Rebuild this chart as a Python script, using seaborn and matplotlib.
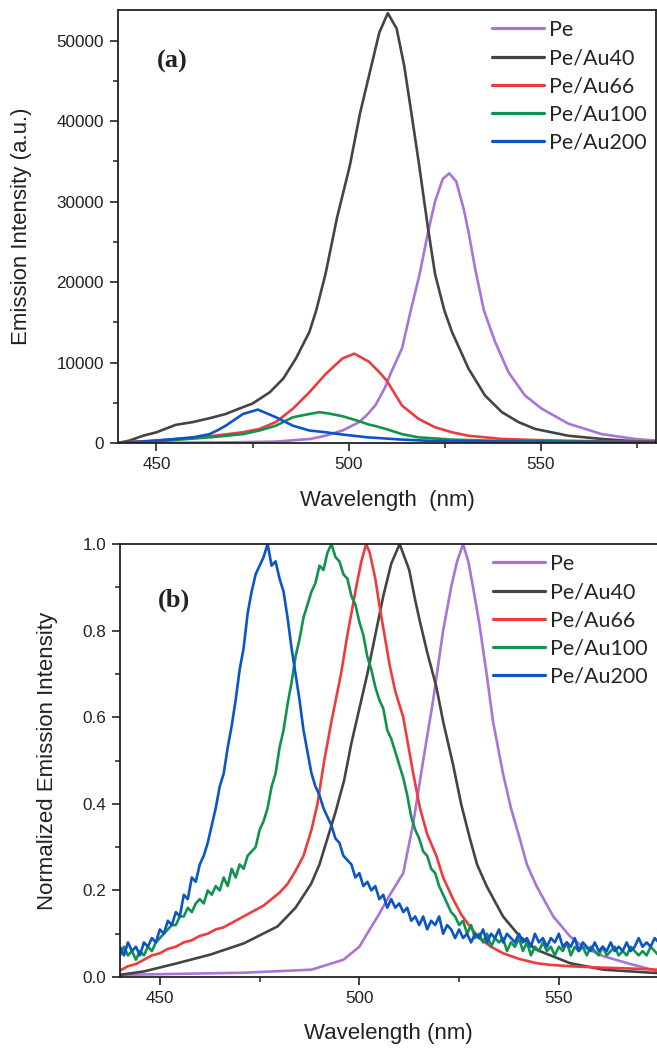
import pandas as pd
import matplotlib
matplotlib.use("Agg")
import matplotlib.pyplot as plt
from matplotlib.ticker import MultipleLocator, FormatStrFormatter
import seaborn as sns

series_names = ["Pe", "Pe/Au40", "Pe/Au66", "Pe/Au100", "Pe/Au200"]
series_colors = ["#A874D8", "#444444", "#EE3B3B", "#12924F", "#0A55C8"]

# (a) emission intensity
pe_wl = [440, 460, 470, 481, 490, 494, 498.4, 502.8, 505, 507, 509.5, 511, 513.9, 516.2, 518.5,
         520.6, 522.5, 524.5, 526.2, 528, 530, 531.3, 533, 535.2, 538.1, 541.6, 545.9, 550.3,
         557.2, 565.9, 574.5, 580]
pe_int = [0, 50, 80, 170, 500, 900, 1550, 2600, 3600, 4700, 6900, 8700, 11750, 16500, 21000,
          26000, 30000, 32800, 33500, 32500, 29000, 26000, 21500, 16500, 12600, 8800, 5900, 4250,
          2400, 1100, 500, 300]

au40_wl = [440, 443, 446.5, 450, 455, 459.5, 464, 468, 472.5, 475, 479.5, 483, 486.3, 489.8,
           491.6, 494, 497, 500.3, 503, 505.9, 508, 510.2, 512.5, 514.5, 516.5, 518.4, 520.6,
           522.5, 524.9, 526.9, 531.2, 535.5, 539.9, 544.2, 548.5, 557.2, 565.9, 575, 580]
au40_int = [0, 300, 900, 1330, 2250, 2600, 3100, 3600, 4450, 4900, 6300, 8000, 10500, 13800,
            16500, 21000, 28000, 34400, 41000, 46800, 51000, 53400, 51500, 46800, 40500, 34400,
            26900, 21000, 16500, 13800, 9250, 5900, 3830, 2600, 1750, 900, 500, 200, 150]

au66_wl = [440, 450, 463.8, 472.5, 476.8, 481.1, 485.5, 489.8, 494.1, 498.4, 501.5, 505.3, 508,
           510, 513.9, 518.2, 522.5, 526.9, 531.2, 540, 548.5, 560, 580]
au66_int = [50, 300, 830, 1330, 1750, 2600, 4250, 6300, 8600, 10500, 11100, 10100, 8800,
            7700, 4650, 3000, 1950, 1330, 900, 500, 370, 250, 150]

au100_wl = [440, 450, 463.8, 472.5, 476.8, 481.1, 485.5, 489.8, 492.4, 495, 498.4, 502.8,
            505.2, 507, 510, 513.9, 518.2, 526.9, 540, 580]
au100_int = [30, 200, 700, 1100, 1550, 2150, 3200, 3600, 3830, 3650, 3330, 2700, 2300, 2100,
             1700, 1100, 700, 420, 250, 100]

au200_wl = [440, 446.5, 455, 459.5, 463.8, 466, 468.2, 472.5, 476.4, 481.1, 485.5, 489.8, 494.1,
            498.4, 505, 514, 522, 540, 580]
au200_int = [30, 170, 500, 700, 1100, 1600, 2200, 3600, 4150, 3200, 2150, 1550, 1330, 1050, 700,
             420, 250, 170, 100]

# (b) normalized emission intensity
pe_n_wl = [440, 471, 488, 496, 500, 502.6, 504.6, 508, 511, 513.5, 516, 518.5, 521, 523, 524.5,
           526, 527.3, 528.5, 530, 531.9, 533.5, 536, 538, 540.2, 542, 544.4, 548.6, 552.8, 556,
           561.2, 568, 575]
pe_n = [0.005, 0.01, 0.017, 0.04, 0.07, 0.11, 0.14, 0.195, 0.24, 0.355, 0.5, 0.64, 0.8, 0.9,
        0.96, 1.0, 0.96, 0.9, 0.82, 0.70, 0.59, 0.47, 0.39, 0.32, 0.26, 0.21, 0.14, 0.094, 0.07,
        0.048, 0.03, 0.013]

au40_n_wl = [440, 446, 454.4, 462.7, 471.1, 479.5, 484, 487.9, 490, 492, 494, 496.2, 498, 500,
             502, 504, 506, 508, 510.1, 512.5, 514, 515.2, 517, 519.3, 521, 523.5, 525.5, 527.7,
             529.5, 531.9, 536, 540.2, 544.4, 552.8, 561.2, 575]
au40_n = [0.005, 0.013, 0.032, 0.052, 0.078, 0.117, 0.16, 0.215, 0.26, 0.32, 0.38, 0.455, 0.54,
          0.62, 0.70, 0.79, 0.88, 0.955, 1.0, 0.94, 0.87, 0.82, 0.75, 0.67, 0.59, 0.49, 0.40,
          0.32, 0.26, 0.21, 0.14, 0.094, 0.063, 0.032, 0.017, 0.009]

au66_n_wl = [440, 442, 444, 446, 448, 450, 452, 454, 456, 458, 460, 462, 464, 466, 468, 470, 472,
             474, 476, 478, 480, 482, 484, 486, 488, 489.5, 491.2, 493, 495.4, 497, 499.2, 500.5,
             501.7, 502.6, 504, 505, 507.6, 509, 511, 513.5, 515.2, 517, 519.3, 521, 523.5,
             525.5, 527.7, 530, 533, 536, 540, 544.4, 548, 552.8, 560, 567, 575]
au66_n = [0.015, 0.025, 0.03, 0.04, 0.05, 0.055, 0.065, 0.07, 0.08, 0.085, 0.095, 0.10, 0.11,
          0.115, 0.125, 0.135, 0.145, 0.155, 0.165, 0.18, 0.195, 0.215, 0.245, 0.28, 0.34, 0.4,
          0.5, 0.59, 0.7, 0.79, 0.9, 0.96, 1.0, 0.98, 0.92, 0.86, 0.72, 0.66, 0.6, 0.47, 0.39,
          0.33, 0.28, 0.23, 0.18, 0.145, 0.117, 0.09, 0.07, 0.055, 0.042, 0.032, 0.028, 0.025,
          0.022, 0.02, 0.017]

# the two noisiest spectra were read at every nanometre
grid_1nm = list(range(440, 576))
au100_n = [0.05, 0.07, 0.05, 0.06, 0.04, 0.06, 0.05, 0.07, 0.06, 0.08,
           0.09, 0.10, 0.11, 0.12, 0.12, 0.14, 0.14, 0.16, 0.15, 0.17,
           0.18, 0.17, 0.20, 0.19, 0.21, 0.20, 0.23, 0.21, 0.25, 0.23,
           0.26, 0.25, 0.28, 0.29, 0.30, 0.34, 0.36, 0.39, 0.44, 0.47,
           0.53, 0.57, 0.63, 0.68, 0.74, 0.78, 0.83, 0.86, 0.89, 0.91,
           0.95, 0.94, 0.98, 1.00, 0.97, 0.96, 0.93, 0.92, 0.88, 0.86,
           0.82, 0.79, 0.74, 0.71, 0.67, 0.64, 0.62, 0.57, 0.55, 0.52,
           0.49, 0.46, 0.42, 0.37, 0.34, 0.32, 0.29, 0.28, 0.25, 0.24,
           0.21, 0.19, 0.17, 0.15, 0.14, 0.12, 0.13, 0.10, 0.12, 0.09,
           0.10, 0.08, 0.10, 0.07, 0.09, 0.08, 0.09, 0.06, 0.08, 0.07,
           0.09, 0.06, 0.08, 0.05, 0.07, 0.06, 0.08, 0.06, 0.07, 0.05,
           0.07, 0.06, 0.08, 0.05, 0.07, 0.06, 0.07, 0.05, 0.07, 0.06,
           0.05, 0.07, 0.05, 0.06, 0.07, 0.05, 0.06, 0.05, 0.07, 0.06,
           0.05, 0.06, 0.05, 0.07, 0.06, 0.05]
au200_n = [0.07, 0.05, 0.08, 0.06, 0.07, 0.05, 0.08, 0.07, 0.09, 0.08,
           0.11, 0.10, 0.13, 0.12, 0.15, 0.14, 0.19, 0.18, 0.23, 0.22,
           0.26, 0.28, 0.31, 0.35, 0.39, 0.44, 0.47, 0.53, 0.58, 0.64,
           0.71, 0.76, 0.84, 0.89, 0.93, 0.95, 0.97, 1.00, 0.95, 0.96,
           0.92, 0.89, 0.83, 0.76, 0.70, 0.64, 0.57, 0.52, 0.47, 0.44,
           0.42, 0.39, 0.37, 0.35, 0.32, 0.31, 0.28, 0.27, 0.26, 0.23,
           0.24, 0.21, 0.22, 0.20, 0.21, 0.18, 0.19, 0.16, 0.18, 0.16,
           0.17, 0.15, 0.16, 0.13, 0.14, 0.12, 0.14, 0.11, 0.13, 0.12,
           0.14, 0.10, 0.12, 0.11, 0.09, 0.11, 0.09, 0.10, 0.08, 0.10,
           0.09, 0.11, 0.08, 0.10, 0.09, 0.11, 0.08, 0.10, 0.09, 0.08,
           0.10, 0.08, 0.09, 0.07, 0.10, 0.08, 0.09, 0.07, 0.09, 0.08,
           0.10, 0.07, 0.08, 0.07, 0.09, 0.06, 0.08, 0.07, 0.06, 0.08,
           0.06, 0.07, 0.06, 0.08, 0.06, 0.07, 0.06, 0.08, 0.06, 0.07,
           0.09, 0.07, 0.08, 0.07, 0.09, 0.08]


def make_frame(pairs):
    rows = []
    for name, (wl, val) in zip(series_names, pairs):
        rows.append(pd.DataFrame({"wl": wl, "val": val, "sample": name}))
    return pd.concat(rows, ignore_index=True)


top_df = make_frame([(pe_wl, pe_int), (au40_wl, au40_int), (au66_wl, au66_int),
                     (au100_wl, au100_int), (au200_wl, au200_int)])
bot_df = make_frame([(pe_n_wl, pe_n), (au40_n_wl, au40_n), (au66_n_wl, au66_n),
                     (grid_1nm, au100_n), (grid_1nm, au200_n)])

sns.set_style("ticks")
plt.rcParams["font.family"] = ["Liberation Sans", "DejaVu Sans"]
palette = dict(zip(series_names, series_colors))
ink = "#222222"

fig = plt.figure(figsize=(6.57, 10.48), dpi=100)
ax1 = fig.add_axes([0.1796, 0.5773, 0.8189, 0.4132])
ax2 = fig.add_axes([0.1826, 0.0677, 0.8174, 0.4132])

for ax, df in [(ax1, top_df), (ax2, bot_df)]:
    sns.lineplot(data=df, x="wl", y="val", hue="sample", hue_order=series_names,
                 palette=palette, estimator=None, sort=True, linewidth=1.9, ax=ax)
    for s in ax.spines.values():
        s.set_linewidth(1.3)
        s.set_color(ink)
    ax.tick_params(axis="both", which="major", direction="out", length=6, width=1.2, pad=4,
                   labelsize=12.3, colors=ink, top=False, right=False)
    ax.tick_params(axis="both", which="minor", direction="out", length=3.5, width=1.1,
                   colors=ink, top=False, right=False)
    leg = ax.legend(loc="upper left", bbox_to_anchor=(0.695, 0.977), frameon=False,
                    borderpad=0, borderaxespad=0, handlelength=2.4, handletextpad=0.25,
                    labelspacing=0.38, prop={"family": "Lato", "size": 15.5})
    for line in leg.get_lines():
        line.set_linewidth(2.3)
    ax.xaxis.set_major_locator(MultipleLocator(50))
    ax.xaxis.set_minor_locator(MultipleLocator(25))

ax1.set_xlim(440, 580)
ax1.set_ylim(0, 53800)
ax1.yaxis.set_major_locator(MultipleLocator(10000))
ax1.yaxis.set_minor_locator(MultipleLocator(5000))
ax1.set_xlabel("Wavelength  (nm)", fontsize=16, labelpad=13, color=ink)
ax1.set_ylabel("Emission Intensity (a.u.)", fontsize=16, color=ink)
ax1.yaxis.set_label_coords(-0.160, 0.5)
ax1.text(0.072, 0.868, "(a)", transform=ax1.transAxes, fontsize=19, fontweight="bold",
         family="Liberation Serif", color=ink)

ax2.set_xlim(440, 574.6)
ax2.set_ylim(0, 1.0)
ax2.spines["right"].set_visible(False)
ax2.yaxis.set_major_locator(MultipleLocator(0.2))
ax2.yaxis.set_minor_locator(MultipleLocator(0.1))
ax2.yaxis.set_major_formatter(FormatStrFormatter("%.1f"))
ax2.set_xlabel("Wavelength (nm)", fontsize=16, labelpad=12, color=ink)
ax2.set_ylabel("Normalized Emission Intensity", fontsize=16, color=ink)
ax2.yaxis.set_label_coords(-0.115, 0.5)
ax2.text(0.071, 0.855, "(b)", transform=ax2.transAxes, fontsize=19, fontweight="bold",
         family="Liberation Serif", color=ink)

fig.savefig("out.png", dpi=100)
